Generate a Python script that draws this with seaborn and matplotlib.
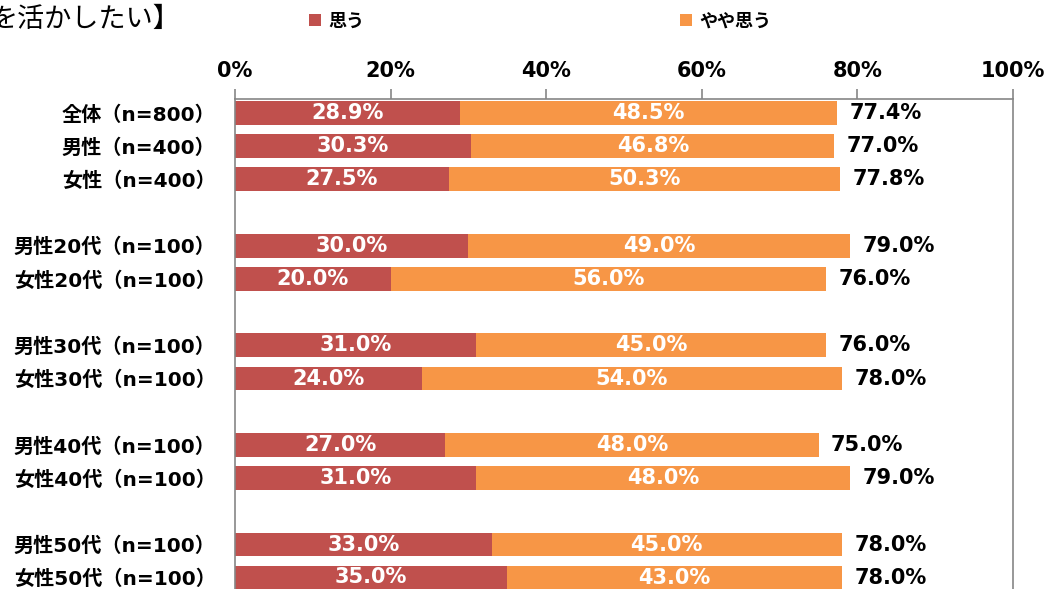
import numpy as np
import pandas as pd
import seaborn as sns
import matplotlib
matplotlib.use('Agg')
import matplotlib.pyplot as plt

# data
labels = ['全体（n=800）', '男性（n=400）', '女性（n=400）',
          '男性20代（n=100）', '女性20代（n=100）',
          '男性30代（n=100）', '女性30代（n=100）',
          '男性40代（n=100）', '女性40代（n=100）',
          '男性50代（n=100）', '女性50代（n=100）']
omou = [28.9, 30.3, 27.5, 30.0, 20.0, 31.0, 24.0, 27.0, 31.0, 33.0, 35.0]
yaya = [48.5, 46.8, 50.3, 49.0, 56.0, 45.0, 54.0, 48.0, 48.0, 45.0, 43.0]
total = [77.4, 77.0, 77.8, 79.0, 76.0, 76.0, 78.0, 75.0, 79.0, 78.0, 78.0]
xticks = [0, 20, 40, 60, 80, 100]

# blank slots give the gaps between the groups
order = labels[:3] + [' '] + labels[3:5] + ['  '] + labels[5:7] + ['   '] + labels[7:9] + ['    '] + labels[9:]

df = pd.DataFrame({'label': labels, 'omou': omou, 'yaya': yaya, 'total': total})

RED = '#C0504D'
ORANGE = '#F79646'
GRID = '#868686'

sns.set_style('white')
plt.rcParams['font.family'] = ['DejaVu Sans', 'Noto Sans CJK JP']
plt.rcParams['text.color'] = 'black'
plt.rcParams['xtick.color'] = 'black'
plt.rcParams['ytick.color'] = 'black'

fig = plt.figure(figsize=(10.49, 5.89), dpi=100)
ax = fig.add_axes([0.224, 0.0, 0.7417, 0.832])

sns.barplot(data=df, x='total', y='label', order=order, color=ORANGE, saturation=1,
            width=0.72, orient='h', errorbar=None, ax=ax, linewidth=0)
sns.barplot(data=df, x='omou', y='label', order=order, color=RED, saturation=1,
            width=0.72, orient='h', errorbar=None, ax=ax, linewidth=0)

# labels
ax.bar_label(ax.containers[1], fmt='%.1f%%', label_type='center', color='white',
             fontsize=15, fontweight='bold')
ax.bar_label(ax.containers[0], fmt='%.1f%%', label_type='edge', padding=9, color='black',
             fontsize=15, fontweight='bold')
for lab, o, y in zip(labels, omou, yaya):
    ax.text(o + y / 2, order.index(lab), f'{y:.1f}%', ha='center', va='center',
            color='white', fontsize=15, fontweight='bold')

ax.set_xlim(0, 100)
ax.set_ylim(14.34, -0.42)
ax.set_xticks(xticks)
ax.set_xticklabels([f'{t}%' for t in xticks], fontsize=15, fontweight='bold')
ax.xaxis.tick_top()
ax.tick_params(axis='x', length=7, width=1.2, color=GRID, labelcolor='black', pad=6)
ax.tick_params(axis='y', length=0, pad=14, labelsize=14.5, labelcolor='black')
for t in ax.get_yticklabels():
    t.set_fontweight('bold')
ax.set_xlabel('')
ax.set_ylabel('')

for side in ['top', 'left', 'right']:
    ax.spines[side].set_visible(True)
    ax.spines[side].set_color(GRID)
    ax.spines[side].set_linewidth(1.2)
ax.spines['bottom'].set_visible(False)

# legend
handles = [ax.containers[1].patches[0], ax.containers[0].patches[0]]
fig.legend(handles, ['思う', 'やや思う'], ncol=2, frameon=False,
           loc='center left', bbox_to_anchor=(309 / 1049, 1 - 21 / 589),
           borderpad=0, borderaxespad=0, handlelength=0.65, handleheight=0.65,
           handletextpad=0.4, columnspacing=17.5,
           prop={'size': 13, 'weight': 'bold', 'family': ['Noto Sans CJK JP']})

# title fragment cut at the left edge
fig.text(180 / 1049, 1 - 19 / 589, 'を活かしたい】', ha='right', va='center',
         fontsize=19.5, family=['Noto Sans CJK JP'])

fig.savefig('out.png', dpi=100)
